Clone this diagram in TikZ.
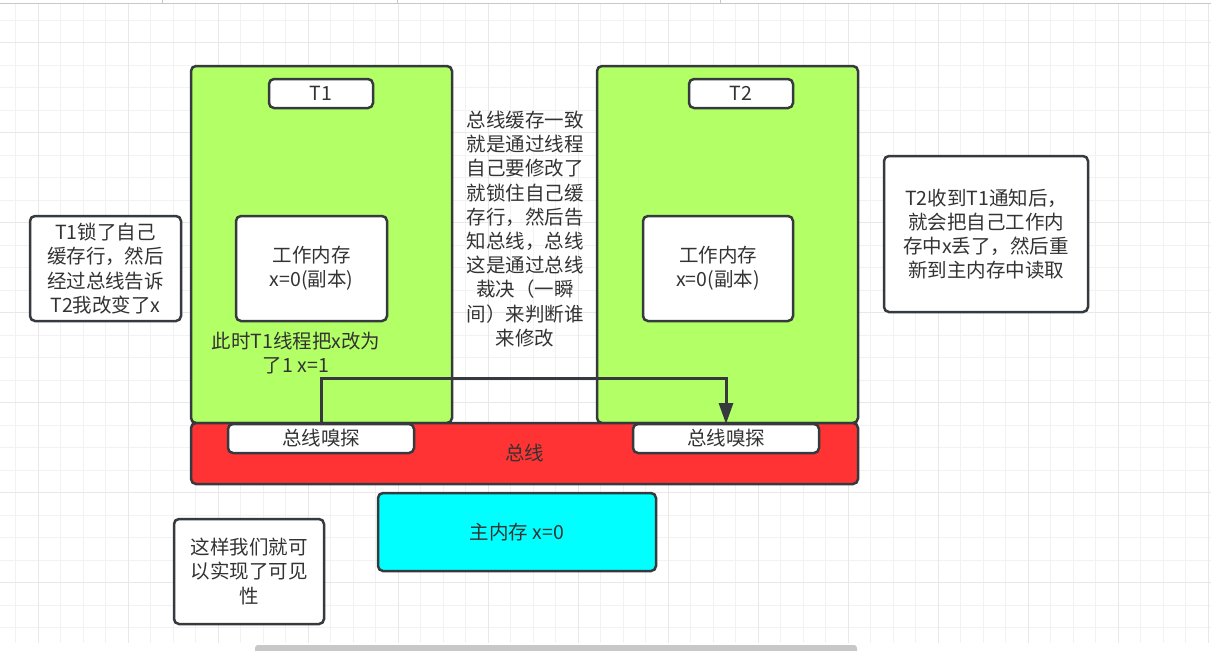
\documentclass[tikz,border=0pt]{standalone}
\usepackage{fontspec}
\setmainfont{Noto Sans CJK SC}
\usetikzlibrary{arrows.meta}
\definecolor{gridminor}{HTML}{F2F2F2}
\definecolor{gridmajor}{HTML}{E8E8E8}
\definecolor{strokec}{HTML}{36393D}
\definecolor{textc}{HTML}{333333}
\definecolor{greenf}{HTML}{B3FF66}
\definecolor{redf}{HTML}{FF3333}
\definecolor{cyanf}{HTML}{00FFFF}
\definecolor{barc}{HTML}{C8C8C8}
\newcommand\diagfont{\fontsize{19.5pt}{24.2pt}\selectfont}
\begin{document}
\begin{tikzpicture}[x=1pt,y=-1pt,
  box/.style={draw=strokec, line width=2.5pt, rounded corners=5pt, inner sep=0pt, outer sep=0pt,
    fill=white, text=textc, font=\diagfont, align=center},
  plain/.style={text=textc, font=\diagfont, align=center, inner sep=0pt},
  conn/.style={draw=strokec, line width=3pt, -{Triangle[length=21pt,width=14pt]}}]
\useasboundingbox (0,0) rectangle (1211,651);
\fill[white] (0,0) rectangle (1211,651);
% grid
\foreach \i in {0,...,53} { \draw[gridminor, line width=1pt] ({15.5+22.5*\i},4) -- ({15.5+22.5*\i},643); }
\foreach \i in {0,...,27} { \draw[gridminor, line width=1pt] (0,{20+22.5*\i}) -- (1211,{20+22.5*\i}); }
\foreach \i in {0,...,13} { \draw[gridmajor, line width=1pt] ({38+90*\i},4) -- ({38+90*\i},643); }
\foreach \i in {0,...,6} { \draw[gridmajor, line width=1pt] (0,{42.5+90*\i}) -- (1211,{42.5+90*\i}); }
% top ruler line and bottom scrollbar
\draw[barc, line width=1pt] (0,3.5) -- (1211,3.5);
\foreach \x in {162,397,720} { \draw[barc, line width=1pt] (\x,0) -- (\x,3.5); }
\fill[white] (0,643) rectangle (1211,651);
\fill[barc, rounded corners=3pt] (255,645) -- (857,645) -- (857,655) -- (255,655) -- cycle;

% thread boxes
\node[box, fill=greenf, minimum width=261pt, minimum height=357pt] (t1box) at (321.5,244.5) {};
\node[box, fill=greenf, minimum width=261pt, minimum height=357pt] (t2box) at (727.5,244.5) {};
\node[box, fill=redf, minimum width=667pt, minimum height=61pt] (bus) at (524.5,453.5) {总线};

\node[box, minimum width=104pt, minimum height=29pt] (t1lbl) at (321,93.5) {T1};
\node[box, minimum width=104pt, minimum height=29pt] (t2lbl) at (741,93.5) {T2};
\node[box, minimum width=151pt, minimum height=105pt] (wm1) at (311.5,268.5) {工作内存\\x=0(副本)};
\node[box, minimum width=150pt, minimum height=105pt] (wm2) at (718,268.5) {工作内存\\x=0(副本)};
\node[box, minimum width=186pt, minimum height=29pt] (sn1) at (321,438.5) {总线嗅探};
\node[box, minimum width=186pt, minimum height=29pt] (sn2) at (726,438.5) {总线嗅探};

\node[plain] (t1note) at (296,353) {此时T1线程把x改为\\了1 x=1};
\node[plain] (midtext) at (525,229) {总线缓存一致\\就是通过线程\\自己要修改了\\就锁住自己缓\\存行，然后告\\知总线，总线\\这是通过总线\\裁决（一瞬\\间）来判断谁\\来修改};

% arrow
\coordinate (bend) at (0,378);
\draw[conn] (sn1.north) -- (sn1.north |- bend) -| (sn2.north);

% main memory
\node[box, fill=cyanf, minimum width=278pt, minimum height=78pt] (mem) at (517,532) {主内存 x=0};

% notes
\node[box, minimum width=151pt, minimum height=105pt] (noteL) at (105.5,268.5) {T1锁了自己\\缓存行，然后\\经过总线告诉\\T2我改变了x};
\node[box, minimum width=204pt, minimum height=156pt] (noteR) at (986,234) {T2收到T1通知后，\\就会把自己工作内\\存中x丢了，然后重\\新到主内存中读取};
\node[box, minimum width=150pt, minimum height=105pt] (noteB) at (249,571.5) {这样我们就可\\以实现了可见\\性};
\end{tikzpicture}
\end{document}
